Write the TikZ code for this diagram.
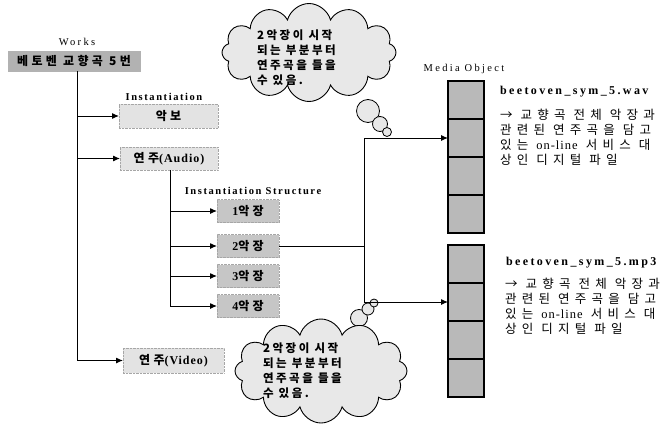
\documentclass[tikz,border=0pt]{standalone}
\usepackage{fontspec}
\setmainfont{Liberation Serif}
\newfontfamily\kr{Noto Sans CJK KR}
\usetikzlibrary{arrows.meta,shapes.symbols}
\newcommand\lat[1]{{\rmfamily\addfontfeature{LetterSpace=8}#1}}
\begin{document}
\begin{tikzpicture}[x=1pt,y=-1pt,
  every node/.style={inner sep=0pt,outer sep=0pt},
  lbl/.style={font=\fontsize{10.5}{12}\selectfont\addfontfeature{LetterSpace=22}},
  blbl/.style={font=\bfseries\fontsize{10.5}{12}\selectfont\addfontfeature{LetterSpace=15}},
  krb/.style={font=\kr\bfseries\fontsize{12}{14}\selectfont\addfontfeature{LetterSpace=28}},
  workbox/.style={krb,draw=gray!60,fill=gray!60,minimum width=132,minimum height=20},
  instbox/.style={krb,draw=gray!70,densely dotted,fill=gray!22,minimum height=24},
  movbox/.style={krb,draw=gray!70,densely dotted,fill=gray!45,minimum width=62,minimum height=23},
  seg/.style={draw=black,line width=1.6pt,fill=gray!55,minimum width=36,minimum height=38},
  cloudshape/.style={cloud,cloud puffs=12,cloud ignores aspect,draw=black,line width=0.9pt,fill=gray!18},
  bubble/.style={circle,draw=black,line width=0.8pt,fill=gray!18},
  cloudtext/.style={font=\kr\bfseries\fontsize{11.5}{15}\selectfont\addfontfeature{LetterSpace=22},align=left,anchor=west},
  title/.style={font=\bfseries\fontsize{12}{14}\selectfont\addfontfeature{LetterSpace=20},anchor=west},
  desc/.style={font=\kr\fontsize{12.5}{15}\selectfont\addfontfeature{LetterSpace=42},anchor=west},
  conn/.style={line width=1pt},
  arr/.style={line width=1pt,-{Latex[length=7pt,width=6pt]}}
]
\useasboundingbox (0,0) rectangle (668,425);

% clouds (drawn first)
\node[bubble,minimum size=23] (b1a) at (368,111) {};
\node[bubble,minimum size=15] (b1b) at (380,124) {};
\node[bubble,minimum size=9] (b1c) at (387,132) {};
\node[cloudshape,minimum width=174,minimum height=98] (c1) at (309,52.5) {};
\node[cloudtext] (t1) at (257,57.5) {2악장이 시작\\되는 부분부터\\연주곡을 들을\\수 있음.};

\node[bubble,minimum size=17] (b2a) at (359,318) {};
\node[bubble,minimum size=12] (b2b) at (368,309) {};
\node[bubble,minimum size=8] (b2c) at (374,303) {};
\node[cloudshape,minimum width=172,minimum height=104] (c2) at (321,371) {};
\node[cloudtext] (t2) at (263,370.5) {2악장이 시작\\되는 부분부터\\연주곡을 들을\\수 있음.};

% labels
\node[lbl] (lworks) at (77,42) {Works};
\node[blbl] (linst) at (164,97) {Instantiation};
\node[blbl] (lstruct) at (253,191) {Instantiation Structure};
\node[lbl] (lmedia) at (464,69) {Media Object};

% boxes
\node[workbox] (works) at (74,61) {베토벤 교향곡 5번};
\node[instbox,minimum width=99] (akbo) at (168.5,116) {악보};
\node[instbox,minimum width=98,minimum height=23] (audio) at (169,158.5) {연주\lat{(Audio)}};
\node[instbox,minimum width=101,minimum height=25] (video) at (173.5,360.5) {연주\lat{(Video)}};
\node[movbox] (m1) at (248,211) {\lat{1}악장};
\node[movbox] (m2) at (248,246) {\lat{2}악장};
\node[movbox] (m3) at (248,276) {\lat{3}악장};
\node[movbox] (m4) at (248,306) {\lat{4}악장};

% media objects
\node[seg] (w1) at (466,100) {};
\node[seg] (w2) at (466,138) {};
\node[seg] (w3) at (466,176) {};
\node[seg] (w4) at (466,214) {};
\node[seg] (p1) at (466,264) {};
\node[seg] (p2) at (466,302) {};
\node[seg] (p3) at (466,340) {};
\node[seg] (p4) at (466,378) {};

% texts right
\node[title] (wavt) at (500,92) {beetoven\_sym\_5.wav};
\node[desc] (wd1) at (500,115) {→ 교향곡 전체 악장과};
\node[desc] (wd2) at (500,130) {관련된 연주곡을 담고};
\node[desc] (wd3) at (500,145) {있는 \lat{on-line} 서비스 대};
\node[desc] (wd4) at (500,160) {상인 디지털 파일};
\node[title] (mpt) at (506,263) {beetoven\_sym\_5.mp3};
\node[desc] (md1) at (505,284) {→ 교향곡 전체 악장과};
\node[desc] (md2) at (505,299) {관련된 연주곡을 담고};
\node[desc] (md3) at (505,314) {있는 \lat{on-line} 서비스 대};
\node[desc] (md4) at (505,329) {상인 디지털 파일};

% connectors
\coordinate (mx) at (77,0);
\coordinate (sx) at (170,0);
\coordinate (j) at (364,246);
\draw[arr] (works.south -| mx) |- (video.west);
\draw[arr] (mx |- akbo) -- (akbo.west);
\draw[arr] (mx |- audio) -- (audio.west);
\draw[arr] (audio.south -| sx) |- (m4.west);
\draw[arr] (sx |- m1) -- (m1.west);
\draw[arr] (sx |- m2) -- (m2.west);
\draw[arr] (sx |- m3) -- (m3.west);
\draw[conn] (m2.east) -- (j);
\draw[arr] (j) |- (w2.west);
\draw[arr] (j) |- (p2.west);
\end{tikzpicture}
\end{document}
